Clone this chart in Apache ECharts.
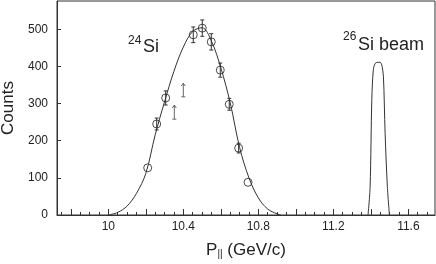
<!DOCTYPE html>
<html><head><meta charset="utf-8">
<script src="https://cdn.jsdelivr.net/npm/echarts@6/dist/echarts.min.js"></script>
<style>html,body{margin:0;padding:0;background:#fff}#c{width:436px;height:264px}</style>
</head><body><div id="c"></div>
<script>
// measured data points (24Si)
const pointX = [10.21, 10.258, 10.306, 10.453, 10.501, 10.549, 10.597, 10.645, 10.695, 10.745];
const pointY = [127, 245, 315, 485, 503, 466, 390, 298, 180, 88];
const pointErr = [0, 16, 19, 21, 22, 22, 19, 16, 13, 0];
// fitted curve
const fitX = [10.00, 10.05, 10.10, 10.15, 10.20, 10.25, 10.30, 10.35, 10.40, 10.45, 10.50, 10.55, 10.60, 10.65, 10.70, 10.75, 10.80, 10.85, 10.90, 10.92];
const fitY = [0, 7, 24, 58, 112, 216, 305, 387, 452, 494, 504, 468, 396, 302, 182, 100, 46, 16, 3, 0];
// 26Si beam peak
const beamX = [11.385, 11.396, 11.405, 11.413, 11.423, 11.437, 11.449, 11.458, 11.467, 11.476, 11.488, 11.499];
const beamY = [0, 76, 310, 390, 408, 411, 411, 404, 372, 220, 76, 0];
// arrows
const arrowX = [10.352, 10.400];
const arrowLow = [258, 318];
const arrowHigh = [296, 355];
// axes
const xLabels = [10, 10.4, 10.8, 11.2, 11.6];
const xMajorTicks = [9.8, 10.0, 10.2, 10.4, 10.6, 10.8, 11.0, 11.2, 11.4, 11.6];
const xMinorTicks = [9.75, 9.85, 9.9, 9.95, 10.05, 10.1, 10.15, 10.25, 10.3, 10.35, 10.45, 10.5, 10.55, 10.65, 10.7, 10.75, 10.85, 10.9, 10.95, 11.05, 11.1, 11.15, 11.25, 11.3, 11.35, 11.45, 11.5, 11.55, 11.65, 11.7];
const yLabels = [0, 100, 200, 300, 400, 500];
const X_MIN = 9.7264, X_MAX = 11.742, Y_MAX = 576;

const FONT = "'Liberation Sans', Arial, Helvetica, sans-serif";
const INK = '#222';
const chart = echarts.init(document.getElementById('c'), null, {renderer: 'canvas'});

const errData = [];
pointX.forEach((x, i) => { if (pointErr[i] > 0) errData.push([x, pointY[i] - pointErr[i], pointY[i] + pointErr[i]]); });
const arrowData = arrowX.map((x, i) => [x, arrowLow[i], arrowHigh[i]]);

chart.setOption({
  animation: false,
  backgroundColor: '#fff',
  textStyle: {fontFamily: FONT},
  grid: {left: 57, right: 1, top: 1, bottom: 49, show: true, borderColor: '#333', borderWidth: 1, outerBoundsMode: 'none', containLabel: false},
  xAxis: [
    {type: 'value', min: X_MIN, max: X_MAX, position: 'bottom',
     axisLine: {show: true, lineStyle: {color: '#333', width: 1}},
     axisTick: {show: true, inside: true, length: 6, customValues: xMajorTicks, lineStyle: {color: '#333'}},
     axisLabel: {customValues: xLabels, fontSize: 12, color: INK, margin: 6, fontFamily: FONT},
     splitLine: {show: false},
     name: '{p|P}{s|||}{p| (GeV/c)}', nameLocation: 'middle', nameGap: 20,
     nameTextStyle: {rich: {
       p: {fontSize: 17, lineHeight: 17, verticalAlign: 'top', color: INK, fontFamily: FONT},
       s: {fontSize: 10, lineHeight: 10, verticalAlign: 'bottom', padding: [11, 0, 0, 0], color: INK, fontFamily: FONT}
     }}},
    {type: 'value', min: X_MIN, max: X_MAX, position: 'bottom',
     axisLine: {show: false},
     axisTick: {show: true, inside: true, length: 3, customValues: xMinorTicks, lineStyle: {color: '#333'}},
     axisLabel: {show: false}, splitLine: {show: false}}
  ],
  yAxis: {type: 'value', min: 0, max: Y_MAX,
    axisLine: {show: true, lineStyle: {color: '#333', width: 1}},
    axisTick: {show: true, inside: true, length: 4, customValues: yLabels, lineStyle: {color: '#333'}},
    axisLabel: {customValues: yLabels, fontSize: 12, color: INK, margin: 9, fontFamily: FONT},
    splitLine: {show: false},
    name: 'Counts', nameLocation: 'middle', nameGap: 34, nameRotate: 90,
    nameTextStyle: {fontSize: 17, color: INK, fontFamily: FONT}},
  series: [
    {type: 'line', xAxisIndex: 0, data: fitX.map((x, i) => [x, fitY[i]]), smooth: 0.35, showSymbol: false,
     lineStyle: {color: '#333', width: 1}, silent: true, z: 3},
    {type: 'line', xAxisIndex: 0, data: beamX.map((x, i) => [x, beamY[i]]), smooth: 0.3, showSymbol: false,
     lineStyle: {color: '#333', width: 1}, silent: true, z: 3},
    {type: 'custom', xAxisIndex: 0, data: errData, encode: {x: 0, y: [1, 2]}, silent: true, z: 4,
     renderItem: (params, api) => {
       const lo = api.coord([api.value(0), api.value(1)]);
       const hi = api.coord([api.value(0), api.value(2)]);
       const w = 2, st = {stroke: '#333', lineWidth: 1};
       return {type: 'group', children: [
         {type: 'line', shape: {x1: lo[0], y1: lo[1], x2: hi[0], y2: hi[1]}, style: st},
         {type: 'line', shape: {x1: lo[0] - w, y1: lo[1], x2: lo[0] + w, y2: lo[1]}, style: st},
         {type: 'line', shape: {x1: hi[0] - w, y1: hi[1], x2: hi[0] + w, y2: hi[1]}, style: st}
       ]};
     }},
    {type: 'custom', xAxisIndex: 0, data: arrowData, encode: {x: 0, y: [1, 2]}, silent: true, z: 4,
     renderItem: (params, api) => {
       const lo = api.coord([api.value(0), api.value(1)]);
       const hi = api.coord([api.value(0), api.value(2)]);
       const st = {stroke: '#666', lineWidth: 1};
       return {type: 'group', children: [
         {type: 'line', shape: {x1: lo[0], y1: lo[1], x2: hi[0], y2: hi[1]}, style: st},
         {type: 'line', shape: {x1: lo[0] - 2, y1: lo[1], x2: lo[0] + 2, y2: lo[1]}, style: st},
         {type: 'polyline', shape: {points: [[hi[0] - 2, hi[1] + 3], [hi[0], hi[1]], [hi[0] + 2, hi[1] + 3]]}, style: {stroke: '#666', lineWidth: 1, fill: null}}
       ]};
     }},
    {type: 'scatter', xAxisIndex: 0, data: pointX.map((x, i) => [x, pointY[i]]), symbol: 'circle', symbolSize: 8,
     itemStyle: {color: 'rgba(255,255,255,0)', borderColor: '#222', borderWidth: 1}, silent: true, z: 5}
  ],
  graphic: [
    {type: 'text', left: 128, top: 35, style: {text: '24', font: "12px " + FONT, fill: INK}},
    {type: 'text', left: 143, top: 38, style: {text: 'Si', font: "18px " + FONT, fill: INK}},
    {type: 'text', left: 343, top: 31, style: {text: '26', font: "12px " + FONT, fill: INK}},
    {type: 'text', left: 358, top: 36, style: {text: 'Si beam', font: "18px " + FONT, fill: INK}}
  ]
});
</script></body></html>
